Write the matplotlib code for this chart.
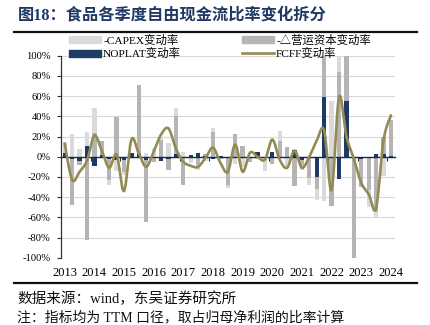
import numpy as np
import matplotlib
matplotlib.use('Agg')
import matplotlib.pyplot as plt
from matplotlib.patches import Patch
from matplotlib.lines import Line2D

# ---------------- data (2013Q1 .. 2024Q1, 45 quarters) ----------------
years = ['2013', '2014', '2015', '2016', '2017', '2018', '2019', '2020',
         '2021', '2022', '2023', '2024']
capex = [15, 22, 8, 24, 48, 0, -28, -14, -18, 3,
         0, 4, 9, 20, 14, 48, 5, -6, -13, -4,
         28, 0, -31, -7, -10, 0, -2, -14, 0, 25,
         -9, 0, -13, -28, -43, -44, 55, 110, 0, 0,
         -30, -50, -60, -19, 0]
dwc = [0, -48, -8, -82, 23, 16, -23, 39, -15, 0,
       71, -65, -5, 17, -13, 40, -28, 0, -8, 3,
       24, -2, -28, 22, 11, -5, 0, 0, -7, 16,
       10, -29, -8, -21, -32, 105, -49, 84, 105, -105,
       -30, -33, -55, 20, 36]
noplat = [4, -2, -4, 11, -9, 2, -2, -3, -3, 4,
          3, -3, -1, -4, -2, 3, -1, 2, 4, 1,
          -2, 1, -1, 0, 0, -1, 5, 0, 5, 0,
          0, 7, -3, -1, -20, 59, 0, -22, 55, -1,
          -2, -1, 3, 3, 1]
fcff = [13, -23, -15, -4, 21, 6, -11, 2, -34, 17,
        3, -10, 5, 22, 28, 8, -5, -9, -10, -1,
        9, -6, -15, 12, -15, 4, 0, -3, 17, -3,
        -11, 6, -11, 0, 16, 26, -33, 59, 20, -2,
        -26, -37, -51, 16, 41]

labels = ['-CAPEX变动率', 'NOPLAT变动率', '-△营运资本变动率', 'FCFF变动率']
c_capex, c_dwc, c_noplat, c_fcff = '#DADADA', '#B5B5B5', '#1F3A64', '#948A54'

plt.rcParams['font.family'] = ['Liberation Serif', 'Noto Sans CJK SC']
plt.rcParams['axes.unicode_minus'] = False


def smooth(xv, yv, n=24):
    pts = np.column_stack([xv, yv]).astype(float)
    P = np.vstack([pts[0], pts, pts[-1]])
    out = []
    t = np.linspace(0, 1, n, endpoint=False)[:, None]
    for i in range(1, len(P) - 2):
        p0, p1, p2, p3 = P[i - 1], P[i], P[i + 1], P[i + 2]
        seg = 0.5 * ((2 * p1) + (-p0 + p2) * t + (2 * p0 - 5 * p1 + 4 * p2 - p3) * t ** 2
                     + (-p0 + 3 * p1 - 3 * p2 + p3) * t ** 3)
        out.append(seg)
    out.append(pts[-1:])
    s = np.vstack(out)
    return s[:, 0], s[:, 1]


W, H = 430, 325
fig = plt.figure(figsize=(W / 100, H / 100), dpi=100)
L, R, T, B = 61, 394.6, 55.7, 257.7
ax = fig.add_axes([L / W, 1 - B / H, (R - L) / W, (B - T) / H])

x = np.arange(len(noplat))
bw = 0.58
ax.bar(x, capex, bw, color=c_capex, zorder=2)
ax.bar(x, dwc, bw, color=c_dwc, zorder=3)
ax.bar(x, noplat, bw, color=c_noplat, zorder=4)
sx, sy = smooth(x, fcff)
ax.plot(sx, sy, color=c_fcff, lw=1.9, zorder=6, solid_capstyle='round')

ax.set_xlim(-0.5, len(x) - 0.5)
ax.set_ylim(-100, 100)
ax.set_yticks(np.arange(-100, 101, 20))
ax.yaxis.set_major_formatter(lambda v, p: f'{v:.0f}%')
ax.grid(axis='y', color='#D9D9D9', lw=0.8, zorder=0)
ax.set_axisbelow(True)

for s in ['top', 'right']:
    ax.spines[s].set_visible(False)
ax.spines['left'].set_color('#333333')
ax.spines['left'].set_linewidth(0.9)
ax.spines['bottom'].set_position(('data', 0))
ax.spines['bottom'].set_color('#1a2a40')
ax.spines['bottom'].set_linewidth(1.0)
ax.spines['bottom'].set_zorder(5)
ax.set_xticks(np.arange(3.5, len(x) - 1, 4))
ax.set_xticklabels([])
ax.tick_params(axis='x', direction='out', length=3, width=0.8, color='#1a2a40')
ax.tick_params(axis='y', direction='out', length=3, width=0.8, color='#333333',
               labelsize=7.6, pad=4.5)

sec = ax.secondary_xaxis(0)
sec.set_xticks(np.arange(0, len(x), 4), labels=years)
sec.tick_params(length=0, labelsize=9, pad=7)
sec.spines['bottom'].set_visible(False)

# legends
lg_kw = dict(loc='upper left', frameon=False, fontsize=8.2, handlelength=2.8,
             handleheight=0.55, labelspacing=0.2, borderpad=0, borderaxespad=0,
             handletextpad=0.2)
fig.legend(handles=[Patch(color=c_capex), Patch(color=c_noplat)],
           labels=[labels[0], labels[1]], bbox_to_anchor=(69 / W, 1 - 34.5 / H), **lg_kw)
fig.legend(handles=[Patch(color=c_dwc), Line2D([], [], color=c_fcff, lw=1.9)],
           labels=[labels[2], labels[3]], bbox_to_anchor=(242 / W, 1 - 34.5 / H), **lg_kw)

# title, rules and notes
fig.text(18 / W, 1 - 15.5 / H, '图18：食品各季度自由现金流比率变化拆分', fontsize=11.7,
         fontweight='bold', color='#1F3864', va='center', ha='left')
fig.add_artist(Line2D([14 / W, 417 / W], [1 - 31.7 / H] * 2, color='#111111', lw=1.6))
fig.add_artist(Line2D([14 / W, 417 / W], [1 - 282.7 / H] * 2, color='#111111', lw=1.6))
fig.text(17 / W, 1 - 298.5 / H, '数据来源：wind，东吴证券研究所', fontsize=10.5,
         va='center', ha='left', color='#111111')
fig.text(17 / W, 1 - 324.3 / H, '注：指标均为 TTM 口径，取占归母净利润的比率计算', fontsize=10,
         va='bottom', ha='left', color='#111111')

fig.savefig('out.png', dpi=100)
